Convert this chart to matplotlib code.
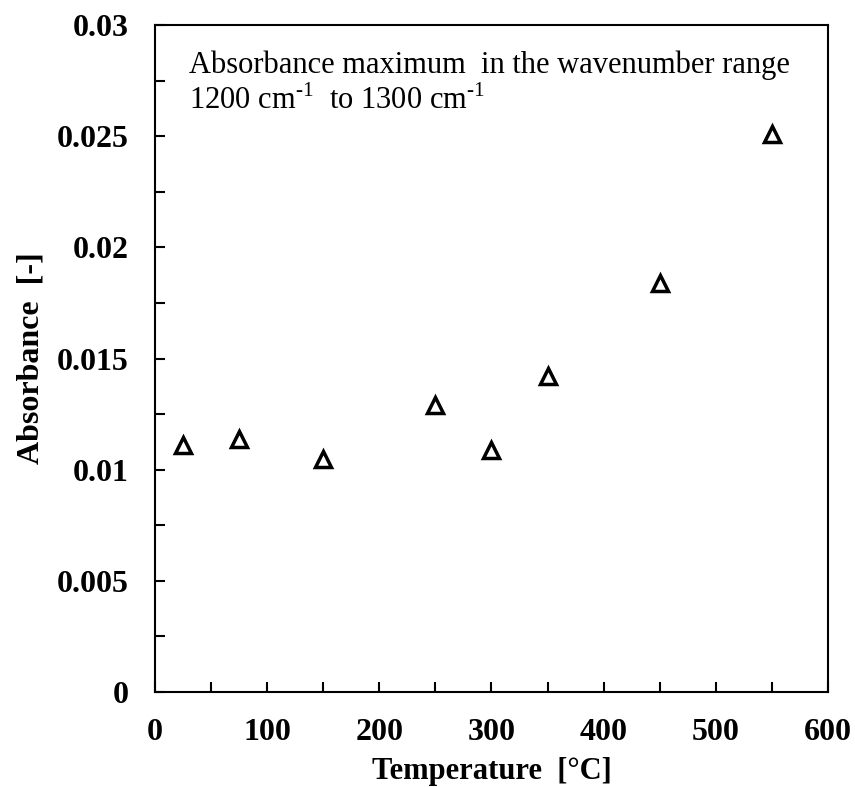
import matplotlib
matplotlib.use("Agg")
import matplotlib.pyplot as plt
from matplotlib.ticker import MultipleLocator

temperature = [25, 75, 150, 250, 300, 350, 450, 550]
absorbance = [0.0111, 0.0114, 0.0105, 0.0129, 0.0109, 0.0142, 0.0184, 0.0251]
ytick_vals = [0, 0.005, 0.01, 0.015, 0.02, 0.025, 0.03]
ytick_labels = ['0', '0.005', '0.01', '0.015', '0.02', '0.025', '0.03']

plt.rcParams['font.family'] = ['Liberation Serif', 'DejaVu Serif']
plt.rcParams['mathtext.fontset'] = 'custom'
plt.rcParams['mathtext.rm'] = 'Liberation Serif'

fig = plt.figure(figsize=(8.55, 7.87), dpi=100)
ax = fig.add_axes([0.1813, 0.1207, 0.7871, 0.8475])

ax.plot(temperature, absorbance, linestyle='none', marker='^', markersize=11,
        markerfacecolor='white', markeredgecolor='black', markeredgewidth=2.5)

ax.set_xlim(0, 600)
ax.set_ylim(0, 0.03)
ax.xaxis.set_major_locator(MultipleLocator(100))
ax.xaxis.set_minor_locator(MultipleLocator(50))
ax.yaxis.set_minor_locator(MultipleLocator(0.0025))
ax.set_yticks(ytick_vals)
ax.set_yticklabels(ytick_labels)
ax.tick_params(which='both', direction='in', width=1.5, length=7.5, labelsize=23, pad=19)
for lab in ax.get_xticklabels() + ax.get_yticklabels():
    lab.set_fontweight('bold')
for s in ax.spines.values():
    s.set_linewidth(1.5)

ax.set_xlabel('Temperature  [°C]', fontsize=22, fontweight='bold', labelpad=7)
ax.set_ylabel('Absorbance  [-]', fontsize=23, fontweight='bold', labelpad=8)

ax.text(0.05, 0.962, 'Absorbance maximum  in the wavenumber range\n1200 cm$^{\\text{-1}}$  to 1300 cm$^{\\text{-1}}$',
        transform=ax.transAxes, fontsize=22, va='top', ha='left', linespacing=1.25)

fig.savefig('out.png', dpi=100)
